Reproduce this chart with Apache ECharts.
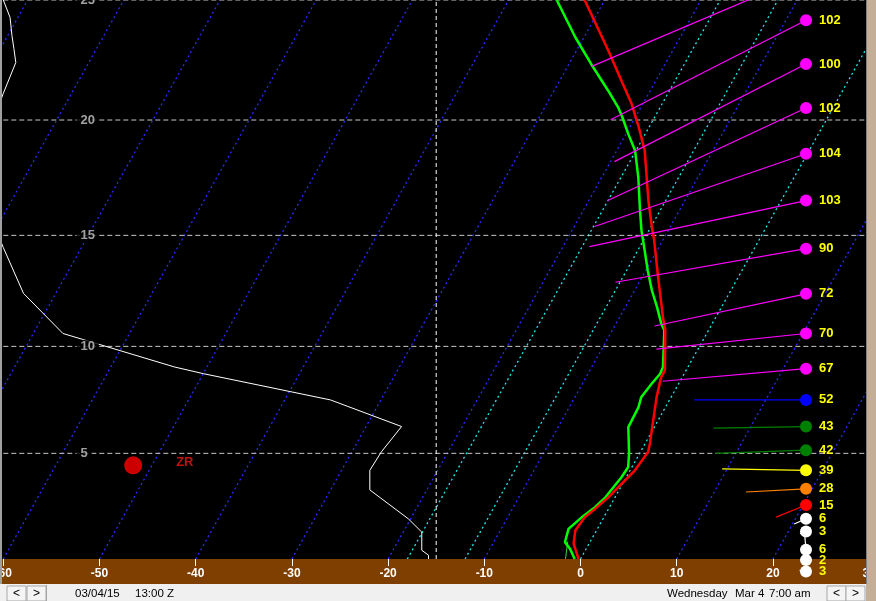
<!DOCTYPE html>
<html><head><meta charset="utf-8">
<script src="https://cdn.jsdelivr.net/npm/echarts@6/dist/echarts.min.js"></script>
<style>html,body{margin:0;padding:0;background:#000;}#c{width:876px;height:601px;}</style>
</head><body><div id="c"></div>
<script>
// ---------------- data ----------------
const X_TICKS = [-60, -50, -40, -30, -20, -10, 0, 10, 20, 30];      // temperature axis (°C)
const HEIGHT_TICKS_KFT = [5, 10, 15, 20, 25];                        // height labels (kft)
const H_TOP_KFT = 25, H_BOT_KFT = -0.12;

// Temperature profile (real °C) at height (kft)
const TEMP_H = [25, 22.92, 21.67, 20.70, 19.71, 18.70, 16.53, 15.37, 14.79, 13.89, 12.99, 12.23, 11.33, 10.74, 8.89, 8.58, 7.64, 6.55, 5.46, 5.07, 4.19, 3.54, 2.89, 2.33, 1.92, 1.28, 0.63, 0.15, -0.12];
const TEMP_C = [-32.1, -26.7, -23.6, -21.2, -19.1, -17.1, -13.8, -11.9, -10.9, -9.5, -8.1, -6.9, -5.5, -4.5, -2.2, -2.2, -1.5, -0.5, 0.5, 0.8, 0.5, -0.1, -0.7, -1.4, -2.0, -2.2, -1.6, -0.7, -0.2];

// Dewpoint profile (real °C)
const DEW_H = [25, 23.47, 22.36, 21.25, 20.55, 20.14, 19.42, 18.70, 17.54, 16.10, 15.23, 14.34, 13.44, 12.54, 11.79, 11.04, 10.74, 9.05, 8.74, 8.27, 7.64, 7.17, 6.24, 5.0, 4.35, 3.86, 2.89, 2.41, 1.92, 1.36, 0.71, 0.39, -0.12];
const DEW_C = [-35.0, -30.9, -27.7, -24.4, -22.4, -21.4, -19.8, -18.1, -16.2, -14.1, -12.8, -11.3, -9.8, -8.2, -6.7, -5.3, -4.6, -2.6, -2.5, -2.8, -3.1, -2.8, -2.7, -1.1, -0.4, -0.5, -1.0, -1.5, -2.3, -3.0, -2.6, -1.7, -0.6];

// thin near-surface trace (real °C)
const SFC_H = [0.75, -0.12];
const SFC_C = [-2.35, -1.56];

// white profile, plotted in axis units
const WHITE_H = [25.3, 25, 24.29, 23.54, 23.0, 22.42, 21.13, 19.5, 16.0, 14.46, 12.41, 10.59, 9.05, 8.74, 7.52, 6.27, 5.07, 4.19, 3.25, 1.85, 1.20, 0.31, 0.07, -0.12];
const WHITE_X = [-60.1, -60.0, -59.3, -59.1, -58.9, -58.7, -60.0, -61.5, -61.5, -60.0, -57.9, -53.8, -42.2, -39.2, -26.0, -18.6, -20.7, -21.9, -21.9, -17.9, -16.5, -16.5, -15.8, -15.8];

// isotherms
const ISOTHERMS = [-100, -90, -80, -70, -60, -50, -40, -30, -20, -10, 10, 20, 30, 40];
const DGZ_ISOTHERMS = [-18, -12, 0];
const VERTICAL_REF = -15;

// wind profile
const WIND_H = [26.0, 24.17, 22.36, 20.51, 18.56, 16.53, 14.41, 12.39, 10.59, 8.97, 7.52, 6.27, 5.15, 4.19, 3.30, 2.52, 1.85, 1.23, 0.34, -0.17, -0.74];
const WIND_KT = [108, 102, 100, 102, 104, 103, 90, 72, 70, 67, 52, 43, 42, 39, 28, 15, 6, 3, 6, 2, 3];
const WIND_DIR = [247, 243, 243, 245, 251, 258, 260, 258, 264, 265, 270, 269, 268, 271, 267, 248, 246, 250, 355, 300, 280];

// precipitation type marker
const PTYPE_LABEL = ['ZR'];
const PTYPE_X = [-46.5];
const PTYPE_H = [4.43];

const DATE_TEXT = '03/04/15', UTC_TEXT = '13:00 Z';
const DAY_TEXT = 'Wednesday', LOCAL_DATE = 'Mar 4', LOCAL_TIME = '7:00 am';

// ---------------- scales ----------------
function pres(hk) { return 1013.25 * Math.pow(1 - 6.8756e-6 * hk * 1000, 5.2559); }
const P_TOP = pres(H_TOP_KFT), P_BOT = pres(H_BOT_KFT);
const SKEW = 32.67;
function skewX(t, p) { return t + SKEW * Math.log(P_BOT / p); }
const WIND_COL_X = 23.44, LABEL_X = -52.4, PX_PER_KT = 2.15;
function windColor(s) {
  if (s < 10) return '#ffffff';
  if (s < 20) return '#ff0000';
  if (s < 30) return '#ff8000';
  if (s < 40) return '#ffff00';
  if (s < 50) return '#008000';
  if (s < 60) return '#0000ff';
  return '#ff00ff';
}
const FONT = 'Liberation Sans';

const series = [];
function lineSeries(data, color, width, type, z) {
  return { type: 'line', data, symbol: 'none', showSymbol: false, silent: true, animation: false, z,
    lineStyle: { color, width, type } };
}
ISOTHERMS.forEach(t => series.push(lineSeries([[t, P_BOT], [skewX(t, P_TOP), P_TOP]], '#2a2aff', 1.3, [2, 3], 1)));
DGZ_ISOTHERMS.forEach(t => series.push(lineSeries([[t, P_BOT], [skewX(t, P_TOP), P_TOP]], '#20e8f0', 1.3, [2, 3], 1)));
HEIGHT_TICKS_KFT.forEach(h => series.push(lineSeries([[X_TICKS[0], pres(h)], [X_TICKS[X_TICKS.length - 1], pres(h)]], '#c8c8c8', 1, [5, 3], 1)));
series.push(lineSeries([[VERTICAL_REF, P_BOT], [VERTICAL_REF, P_TOP]], '#ffffff', 1, [4, 3], 1));
series.push(lineSeries(WHITE_H.map((h, i) => [WHITE_X[i], pres(h)]), '#ffffff', 1, 'solid', 2));
series.push(lineSeries(SFC_H.map((h, i) => [skewX(SFC_C[i], pres(h)), pres(h)]), '#40d040', 1, 'solid', 2));
series.push(lineSeries(DEW_H.map((h, i) => [skewX(DEW_C[i], pres(h)), pres(h)]), '#00ff00', 2.5, 'solid', 3));
series.push(lineSeries(TEMP_H.map((h, i) => [skewX(TEMP_C[i], pres(h)), pres(h)]), '#ff0000', 2.5, 'solid', 4));

// height labels
series.push({ type: 'scatter', silent: true, animation: false, clip: false, z: 5, symbolSize: 0,
  data: HEIGHT_TICKS_KFT.map(h => [LABEL_X, pres(h), h]),
  label: { show: true, position: 'right', distance: 0, formatter: p => String(p.value[2]),
    color: '#c8c8c8', fontFamily: FONT, fontWeight: 'bold', fontSize: 13,
    backgroundColor: '#000', padding: [0, 4, 0, 4] } });

// precip type
series.push({ type: 'scatter', silent: true, animation: false, clip: false, z: 5, symbol: 'circle', symbolSize: 18,
  itemStyle: { color: '#ff0000' },
  data: PTYPE_LABEL.map((t, i) => [PTYPE_X[i], pres(PTYPE_H[i]), t]),
  label: { show: true, position: 'right', distance: 34, formatter: p => p.value[2], color: '#f01818',
    fontFamily: FONT, fontWeight: 'bold', fontSize: 13, offset: [0, -3] } });

// wind vectors
const windData = WIND_H.map((h, i) => [WIND_COL_X, pres(h), WIND_KT[i], WIND_DIR[i]]);
series.push({ type: 'custom', silent: true, animation: false, clip: false, z: 8, data: windData,
  renderItem(params, api) {
    const c = api.coord([api.value(0), api.value(1)]);
    const s = api.value(2), d = api.value(3) * Math.PI / 180, L = s * PX_PER_KT;
    return { type: 'line', shape: { x1: c[0], y1: c[1], x2: c[0] + L * Math.sin(d), y2: c[1] - L * Math.cos(d) },
      style: { stroke: windColor(s), lineWidth: 1.2 } };
  } });
series.push({ type: 'custom', silent: true, animation: false, clip: false, z: 9, data: windData,
  renderItem(params, api) {
    const c = api.coord([api.value(0), api.value(1)]);
    const s = api.value(2);
    return { type: 'group', children: [
      { type: 'circle', shape: { cx: c[0], cy: c[1], r: 6 }, style: { fill: windColor(s) } },
      { type: 'text', x: c[0] + 13, y: c[1], style: { text: String(s), fill: '#ffff00', font: 'bold 13px "' + FONT + '"',
        align: 'left', verticalAlign: 'middle', textAlign: 'left', textVerticalAlign: 'middle' } }
    ] };
  } });

function btn(x, ch) {
  return [
    { type: 'rect', z: 21, shape: { x: x, y: 586, width: 19, height: 15 }, style: { fill: '#f4f4f4', stroke: '#a8a8a8', lineWidth: 1 } },
    { type: 'text', z: 22, x: x + 9.5, y: 593.5, style: { text: ch, fill: '#000', font: '12px "' + FONT + '"', align: 'center', verticalAlign: 'middle', textAlign: 'center', textVerticalAlign: 'middle' } }
  ];
}
const txt = (x, s) => ({ type: 'text', z: 22, x, y: 593.5, style: { text: s, fill: '#000', font: '11.5px "' + FONT + '"', align: 'left', verticalAlign: 'middle', textAlign: 'left', textVerticalAlign: 'middle' } });

const option = {
  backgroundColor: '#000',
  animation: false,
  grid: { left: 3.3, top: 0, width: 865.8, height: 559, containLabel: false, outerBoundsMode: 'none' },
  xAxis: { type: 'value', min: X_TICKS[0], max: X_TICKS[X_TICKS.length - 1], interval: 10, z: 6,
    axisLine: { show: false }, splitLine: { show: false },
    axisTick: { show: true, length: 7, lineStyle: { color: '#ffffff', width: 1 } },
    axisLabel: { color: '#ffffff', fontFamily: FONT, fontWeight: 'bold', fontSize: 12, margin: 9, showMinLabel: true, showMaxLabel: true, hideOverlap: false } },
  yAxis: { type: 'log', inverse: true, min: P_TOP, max: P_BOT, logBase: 10,
    axisLine: { show: false }, axisTick: { show: false }, axisLabel: { show: false }, splitLine: { show: false } },
  graphic: { elements: [
    { type: 'rect', z: 1, shape: { x: 0, y: 559, width: 876, height: 25 }, style: { fill: '#7f3f00' } },
    { type: 'rect', z: 20, shape: { x: 0, y: 584, width: 876, height: 17 }, style: { fill: '#f0f0f0' } },
    { type: 'rect', z: 20, shape: { x: 0, y: 0, width: 2, height: 584 }, style: { fill: '#a0a0a0' } },
    { type: 'rect', z: 20, shape: { x: 866, y: 0, width: 10, height: 601 }, style: { fill: '#c4ae98' } },
    { type: 'rect', z: 20, shape: { x: 866, y: 0, width: 1, height: 584 }, style: { fill: '#808080' } },
    { type: 'rect', z: 21, shape: { x: 46, y: 585, width: 1, height: 16 }, style: { fill: '#a0a0a0' } },
    ...btn(7, '<'), ...btn(27, '>'), ...btn(827, '<'), ...btn(846, '>'),
    txt(75, DATE_TEXT), txt(135, UTC_TEXT), txt(667, DAY_TEXT), txt(735, LOCAL_DATE), txt(769, LOCAL_TIME)
  ] },
  series
};
const chart = echarts.init(document.getElementById('c'), null, { renderer: 'canvas', width: 876, height: 601 });
chart.setOption(option);
</script></body></html>
